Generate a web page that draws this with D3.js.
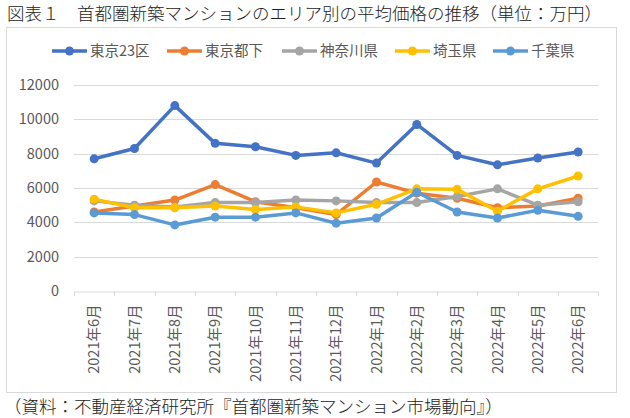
<!DOCTYPE html>
<html><head><meta charset="utf-8">
<script src="https://cdn.jsdelivr.net/npm/d3@7"></script>
<style>
html,body{margin:0;padding:0;background:#fff;}
svg{display:block;}
</style></head>
<body>
<script>
const title = "図表１　首都圏新築マンションのエリア別の平均価格の推移（単位：万円）";
const source = "（資料：不動産経済研究所『首都圏新築マンション市場動向』）";
const categories = ["2021年6月","2021年7月","2021年8月","2021年9月","2021年10月","2021年11月","2021年12月","2022年1月","2022年2月","2022年3月","2022年4月","2022年5月","2022年6月"];
const seriesNames = ["東京23区","東京都下","神奈川県","埼玉県","千葉県"];
const tokyo23 = [7700,8300,10800,8600,8400,7900,8050,7450,9700,7900,7350,7750,8100];
const tokyoTama = [4600,4950,5300,6200,5200,4850,4450,6350,5700,5400,4850,4950,5400];
const kanagawa = [5250,5000,4900,5150,5150,5300,5250,5150,5150,5500,5950,5000,5200];
const saitama = [5350,4850,4850,4950,4750,4900,4550,5050,5950,5920,4650,5950,6700];
const chiba = [4550,4450,3850,4300,4300,4550,3950,4250,5750,4600,4250,4700,4350];
const yTicks = [0,2000,4000,6000,8000,10000,12000];
const colors = ["#4472C4","#ED7D31","#A5A5A5","#FFC000","#5B9BD5"];
const seriesValues = [tokyo23, tokyoTama, kanagawa, saitama, chiba];

const W = 630, H = 418;
const font = "'Noto Sans CJK JP', 'Noto Sans', sans-serif";
const svg = d3.select("body").append("svg").attr("width", W).attr("height", H);
svg.append("rect").attr("width", W).attr("height", H).attr("fill", "#fff");

svg.append("text").attr("x", 7).attr("y", 19.5).attr("font-family", font).attr("font-weight", 300)
  .attr("font-size", 17.5).attr("fill", "#222").text(title);

svg.append("rect").attr("x", 6.5).attr("y", 27.5).attr("width", 610).attr("height", 365)
  .attr("fill", "#fff").attr("stroke", "#D9D9D9").attr("stroke-width", 1);

svg.append("text").attr("x", 4).attr("y", 413).attr("font-family", font).attr("font-weight", 300)
  .attr("font-size", 17.5).attr("fill", "#222").text(source);

const x = d3.scaleBand().domain(categories).range([74, 598.3]);
const y = d3.scaleLinear().domain([0, 12000]).range([291, 85]);

// gridlines
svg.append("g").selectAll("line").data(yTicks.filter(d => d > 0)).join("line")
  .attr("x1", 74).attr("x2", 598.3)
  .attr("y1", d => Math.round(y(d)) + 0.5).attr("y2", d => Math.round(y(d)) + 0.5)
  .attr("stroke", "#D9D9D9").attr("stroke-width", 1);

// y axis labels
const yAxis = d3.axisLeft(y).tickValues(yTicks).tickSize(0).tickPadding(0).tickFormat(d3.format("d"));
const gy = svg.append("g").attr("transform", "translate(59,0)").call(yAxis);
gy.select(".domain").remove();
gy.selectAll("text").attr("font-family", font).attr("font-size", 14.5).attr("fill", "#595959");

// x axis
const xAxis = d3.axisBottom(x).tickSize(0).tickPadding(0);
const gx = svg.append("g").attr("transform", "translate(0,291.5)").call(xAxis);
gx.select(".domain").attr("stroke", "#D9D9D9");
gx.selectAll("text").attr("font-family", font).attr("font-size", 14.5).attr("fill", "#595959")
  .attr("transform", "rotate(-90)").attr("text-anchor", "end").attr("dx", "-13").attr("dy", "0.35em");
// tick marks at band boundaries
const bounds = categories.map(c => x(c)).concat([x(categories[categories.length-1]) + x.bandwidth()]);
svg.append("g").selectAll("line").data(bounds).join("line")
  .attr("x1", d => Math.round(d) + 0.5).attr("x2", d => Math.round(d) + 0.5)
  .attr("y1", 291.5).attr("y2", 296).attr("stroke", "#D9D9D9");

// lines
const cx = c => x(c) + x.bandwidth() / 2;
const line = d3.line().x((d, i) => cx(categories[i])).y(d => y(d));
seriesValues.forEach((vals, si) => {
  const g = svg.append("g");
  g.append("path").datum(vals).attr("d", line).attr("fill", "none")
    .attr("stroke", colors[si]).attr("stroke-width", 3.5).attr("stroke-linejoin", "round");
  g.selectAll("circle").data(vals).join("circle")
    .attr("cx", (d, i) => cx(categories[i])).attr("cy", d => y(d)).attr("r", 4.5)
    .attr("fill", colors[si]);
});

// legend
const legendX = [52, 167, 282, 395, 493];
const lg = svg.append("g");
seriesNames.forEach((n, i) => {
  const g = lg.append("g").attr("transform", `translate(${legendX[i]},51)`);
  g.append("line").attr("x1", 0).attr("x2", 35).attr("y1", 0).attr("y2", 0)
    .attr("stroke", colors[i]).attr("stroke-width", 3.5);
  g.append("circle").attr("cx", 17.5).attr("cy", 0).attr("r", 4.5).attr("fill", colors[i]);
  g.append("text").attr("x", 38).attr("y", 0).attr("dy", "0.35em").attr("font-family", font)
    .attr("font-size", 14.5).attr("fill", "#595959").text(n);
});
</script>
</body></html>
